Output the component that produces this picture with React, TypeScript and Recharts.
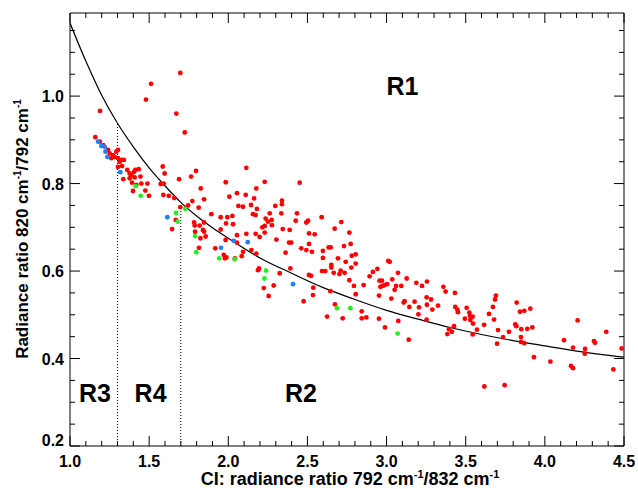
import { ComposedChart, Scatter, Line, XAxis, YAxis, ReferenceLine, ReferenceDot } from 'recharts';

const FONT = '"Liberation Sans", Arial, Helvetica, sans-serif';

// axis ticks (minor every 0.1 / 0.05, labelled majors)
const xTicks = [1.0, 1.1, 1.2, 1.3, 1.4, 1.5, 1.6, 1.7, 1.8, 1.9, 2.0, 2.1, 2.2, 2.3, 2.4, 2.5, 2.6, 2.7, 2.8, 2.9, 3.0, 3.1, 3.2, 3.3, 3.4, 3.5, 3.6, 3.7, 3.8, 3.9, 4.0, 4.1, 4.2, 4.3, 4.4, 4.5];
const xMajor = [1.0, 1.5, 2.0, 2.5, 3.0, 3.5, 4.0, 4.5];
const yTicks = [0.2, 0.25, 0.3, 0.35, 0.4, 0.45, 0.5, 0.55, 0.6, 0.65, 0.7, 0.75, 0.8, 0.85, 0.9, 0.95, 1.0, 1.05, 1.1, 1.15];
const yMajor = [0.2, 0.4, 0.6, 0.8, 1.0];

// fitted curve
const curveX = [1.0, 1.1, 1.2, 1.3, 1.4, 1.5, 1.6, 1.7, 1.8, 1.9, 2.0, 2.2, 2.4, 2.6, 2.8, 3.0, 3.2, 3.4, 3.6, 3.8, 4.0, 4.2, 4.5];
const curveY = [1.167, 1.08, 1.002, 0.938, 0.884, 0.836, 0.795, 0.757, 0.726, 0.699, 0.675, 0.63, 0.595, 0.562, 0.535, 0.51, 0.49, 0.471, 0.455, 0.441, 0.429, 0.417, 0.403];

// dotted dividers (x, top of line)
const dividerX = [1.3, 1.7];
const dividerTop = [0.938, 0.74];

const regionNames = ['R1', 'R2', 'R3', 'R4'];
const regionX = [3.1, 2.459, 1.158, 1.509];
const regionY = [1.022, 0.322, 0.322, 0.322];

const redPts: [number, number][] = [
  [1.697, 1.053], [1.512, 1.028], [1.48, 0.992], [1.19, 0.966], [1.672, 0.96], [1.725, 0.917], [1.16, 0.906],
  [1.188, 0.896], [1.209, 0.888], [1.24, 0.877], [1.251, 0.869], [1.272, 0.865], [1.282, 0.861], [1.293, 0.873], [1.303, 0.877],
  [1.261, 0.858], [1.303, 0.858], [1.314, 0.85], [1.325, 0.854], [1.341, 0.854], [1.303, 0.838], [1.329, 0.84],
  [1.362, 0.831], [1.377, 0.823], [1.388, 0.819], [1.405, 0.827], [1.413, 0.831], [1.434, 0.833], [1.377, 0.812], [1.409, 0.814],
  [1.445, 0.816], [1.337, 0.81], [1.392, 0.802], [1.419, 0.797], [1.451, 0.8], [1.489, 0.8], [1.476, 0.784], [1.398, 0.783], [1.499, 0.772],
  [1.586, 0.839], [1.598, 0.823], [1.573, 0.799], [1.592, 0.8], [1.689, 0.81], [1.765, 0.816], [1.796, 0.829], [1.826, 0.789],
  [1.847, 0.764], [1.984, 0.803], [2.007, 0.77], [1.59, 0.774], [1.624, 0.772], [1.659, 0.767], [1.697, 0.746], [1.746, 0.75],
  [1.773, 0.76], [1.813, 0.745], [1.668, 0.717], [1.784, 0.711], [1.788, 0.704], [1.819, 0.704], [1.847, 0.711], [1.893, 0.73],
  [1.952, 0.723], [1.994, 0.723], [2.026, 0.726], [1.986, 0.709], [2.03, 0.707], [1.645, 0.696], [1.84, 0.694], [1.952, 0.695],
  [2.23, 0.804], [2.177, 0.789], [2.11, 0.774], [2.055, 0.778], [2.163, 0.766], [2.064, 0.749], [2.093, 0.747], [2.144, 0.751],
  [2.181, 0.742], [2.156, 0.73], [2.173, 0.728], [2.236, 0.72], [2.262, 0.732], [2.297, 0.749], [2.339, 0.761], [2.339, 0.753],
  [2.451, 0.802], [2.335, 0.732], [2.274, 0.717], [2.251, 0.713], [2.276, 0.705], [2.23, 0.703], [2.215, 0.7], [2.344, 0.696],
  [2.388, 0.694], [2.434, 0.732], [2.426, 0.715], [2.493, 0.711], [2.504, 0.715], [2.51, 0.686], [2.304, 0.672], [2.23, 0.688],
  [2.198, 0.678], [2.173, 0.685], [2.114, 0.685], [2.055, 0.682], [2.055, 0.665], [2.146, 0.648], [2.177, 0.64], [2.093, 0.644],
  [2.085, 0.634], [2.042, 0.629], [1.988, 0.631], [1.979, 0.629], [1.971, 0.637], [1.918, 0.652], [1.815, 0.653], [1.824, 0.675],
  [1.857, 0.679], [1.847, 0.69], [1.79, 0.69], [1.983, 0.671], [2.188, 0.602], [2.194, 0.606], [2.392, 0.606], [2.325, 0.595],
  [2.287, 0.567], [2.224, 0.561], [2.255, 0.543], [2.476, 0.531], [2.362, 0.642], [2.384, 0.665], [2.398, 0.665], [2.461, 0.652],
  [2.493, 0.648], [2.51, 0.662], [2.51, 0.591], [2.114, 0.836],
  [2.59, 0.723], [2.714, 0.712], [2.672, 0.697], [2.546, 0.684], [2.765, 0.688], [2.773, 0.662], [2.731, 0.657], [2.634, 0.654],
  [2.647, 0.654], [2.598, 0.646], [2.529, 0.644], [2.598, 0.63], [2.693, 0.629], [2.651, 0.614], [2.651, 0.608], [2.78, 0.635],
  [2.805, 0.638], [2.742, 0.621], [2.805, 0.617], [2.777, 0.608], [2.592, 0.6], [2.613, 0.6], [2.666, 0.596], [2.71, 0.601],
  [2.735, 0.596], [2.702, 0.593], [2.523, 0.589], [2.765, 0.579], [3.011, 0.623], [3.02, 0.621], [2.942, 0.605], [2.914, 0.598],
  [2.893, 0.588], [3.072, 0.596], [2.956, 0.578], [2.971, 0.578], [2.961, 0.564], [2.973, 0.566], [2.988, 0.568], [3.003, 0.57],
  [3.036, 0.581], [3.127, 0.583], [3.093, 0.566], [3.06, 0.566], [3.051, 0.557], [2.855, 0.568], [2.794, 0.566], [2.952, 0.544],
  [3.188, 0.573], [3.255, 0.576], [3.224, 0.566], [3.03, 0.537], [3.108, 0.528], [3.114, 0.531], [3.177, 0.53], [3.253, 0.54],
  [3.281, 0.535], [3.144, 0.518], [3.205, 0.517], [3.255, 0.523], [3.325, 0.521], [3.289, 0.512], [3.201, 0.501], [3.253, 0.489],
  [3.359, 0.564], [3.373, 0.553], [2.645, 0.554], [2.537, 0.562], [2.535, 0.545], [2.674, 0.524], [2.624, 0.496], [2.723, 0.492],
  [2.843, 0.508], [2.843, 0.492], [2.872, 0.494], [2.952, 0.491], [2.99, 0.471], [3.074, 0.486], [3.14, 0.443], [3.384, 0.456],
  [3.394, 0.467], [2.805, 0.547],
  [3.432, 0.55], [3.434, 0.518], [3.447, 0.512], [3.451, 0.506], [3.506, 0.516], [3.523, 0.505], [3.527, 0.497], [3.544, 0.496],
  [3.529, 0.488], [3.546, 0.48], [3.495, 0.491], [3.571, 0.466], [3.544, 0.455], [3.616, 0.477], [3.647, 0.502], [3.672, 0.518],
  [3.679, 0.489], [3.685, 0.535], [3.691, 0.544], [3.704, 0.465], [3.698, 0.434], [3.736, 0.449], [3.773, 0.461], [3.822, 0.528],
  [3.843, 0.507], [3.87, 0.509], [3.908, 0.514], [3.813, 0.478], [3.82, 0.474], [3.851, 0.467], [3.889, 0.468], [3.921, 0.471],
  [3.849, 0.449], [3.849, 0.438], [3.87, 0.435], [3.931, 0.403], [4.035, 0.393], [4.121, 0.442], [4.178, 0.425], [4.165, 0.383],
  [4.178, 0.378], [4.207, 0.487], [4.254, 0.422], [4.252, 0.411], [4.31, 0.44], [4.317, 0.436], [4.388, 0.461], [4.433, 0.375],
  [4.485, 0.423], [3.618, 0.336], [3.746, 0.339], [3.413, 0.461], [3.426, 0.474],
];

const bluePts: [number, number][] = [
  [1.177, 0.896], [1.198, 0.886], [1.219, 0.884], [1.224, 0.873], [1.236, 0.861], [1.318, 0.826], [1.615, 0.723],
  [1.954, 0.653], [2.034, 0.669], [2.123, 0.666], [2.409, 0.57],
];

const greenPts: [number, number][] = [
  [1.415, 0.794], [1.447, 0.772], [1.67, 0.733], [1.729, 0.742], [1.68, 0.713], [1.79, 0.68], [1.798, 0.643],
  [1.943, 0.629], [2.04, 0.627], [2.238, 0.601], [2.228, 0.583], [2.687, 0.515], [2.771, 0.515], [3.07, 0.457],
];

const toRows = (pts: [number, number][]) => pts.map(([x, y]) => ({ x, y }));
const curve = curveX.map((x, i) => ({ x, y: curveY[i] }));

const dot = (color: string) => (p: any) => <circle cx={p.cx} cy={p.cy} r={2.4} fill={color} />;

const isMajor = (list: number[], v: number) => list.some((m) => Math.abs(m - v) < 1e-6);

function BottomTick({ x, y, payload }: any) {
  const major = isMajor(xMajor, payload.value);
  return (
    <g>
      <line x1={x} y1={y} x2={x} y2={y - (major ? 10 : 5)} stroke="#000" />
      {major && (
        <text x={x} y={y + 21} textAnchor="middle" fontSize={16} fontWeight="bold" fontFamily={FONT} fill="#000">
          {payload.value.toFixed(1)}
        </text>
      )}
    </g>
  );
}

function TopTick({ x, y, payload }: any) {
  const major = isMajor(xMajor, payload.value);
  return <line x1={x} y1={y} x2={x} y2={y + (major ? 10 : 5)} stroke="#000" />;
}

function LeftTick({ x, y, payload }: any) {
  const major = isMajor(yMajor, payload.value);
  const lift = payload.value < 0.21 ? -6 : 0;
  return (
    <g>
      <line x1={x} y1={y} x2={x + (major ? 10 : 5)} y2={y} stroke="#000" />
      {major && (
        <text x={x - 6} y={y + 6 + lift} textAnchor="end" fontSize={16} fontWeight="bold" fontFamily={FONT} fill="#000">
          {payload.value.toFixed(1)}
        </text>
      )}
    </g>
  );
}

function RightTick({ x, y, payload }: any) {
  const major = isMajor(yMajor, payload.value);
  return <line x1={x} y1={y} x2={x - (major ? 10 : 5)} y2={y} stroke="#000" />;
}

function XTitle() {
  return (
    <text x={350} y={485} textAnchor="middle" fontSize={18} fontWeight="bold" fontFamily={FONT} fill="#000">
      CI: radiance ratio 792 cm<tspan dy={-7} fontSize={11}>-1</tspan>
      <tspan dy={7}>/832 cm</tspan>
      <tspan dy={-7} fontSize={11}>-1</tspan>
    </text>
  );
}

function YTitle() {
  return (
    <text
      x={28}
      y={229}
      transform="rotate(-90, 28, 229)"
      textAnchor="middle"
      fontSize={17}
      fontWeight="bold"
      fontFamily={FONT}
      fill="#000"
    >
      Radiance ratio 820 cm<tspan dy={-7} fontSize={10}>-1</tspan>
      <tspan dy={7}>/792 cm</tspan>
      <tspan dy={-7} fontSize={10}>-1</tspan>
    </text>
  );
}

export default function App() {
  return (
    <div style={{ position: 'absolute', left: 0, top: 0, width: 638, height: 489, background: '#fff' }}>
      <ComposedChart width={638} height={489} margin={{ top: 0, right: 0, bottom: 0, left: 0 }}>
        <XAxis
          xAxisId={0}
          type="number"
          dataKey="x"
          domain={[1, 4.5]}
          allowDataOverflow
          ticks={xTicks}
          interval={0}
          height={43}
          tickSize={0}
          tickMargin={0}
          tickLine={false}
          axisLine={{ stroke: '#000' }}
          tick={<BottomTick />}
          label={{ content: () => <XTitle /> }}
        />
        <XAxis
          xAxisId="top"
          orientation="top"
          type="number"
          dataKey="x"
          domain={[1, 4.5]}
          allowDataOverflow
          ticks={xTicks}
          interval={0}
          height={13}
          tickSize={0}
          tickMargin={0}
          tickLine={false}
          axisLine={{ stroke: '#000' }}
          tick={<TopTick />}
        />
        <YAxis
          yAxisId={0}
          type="number"
          dataKey="y"
          domain={[0.2, 1.19]}
          allowDataOverflow
          ticks={yTicks}
          interval={0}
          width={70}
          tickSize={0}
          tickMargin={0}
          tickLine={false}
          axisLine={{ stroke: '#000' }}
          tick={<LeftTick />}
          label={{ content: () => <YTitle /> }}
        />
        <YAxis
          yAxisId="right"
          orientation="right"
          type="number"
          dataKey="y"
          domain={[0.2, 1.19]}
          allowDataOverflow
          ticks={yTicks}
          interval={0}
          width={14}
          tickSize={0}
          tickMargin={0}
          tickLine={false}
          axisLine={{ stroke: '#000' }}
          tick={<RightTick />}
        />
        {dividerX.map((x, i) => (
          <ReferenceLine
            key={x}
            xAxisId={0}
            yAxisId={0}
            segment={[{ x, y: 0.2 }, { x, y: dividerTop[i] }]}
            stroke="#000"
            strokeDasharray="1 2"
          />
        ))}
        <Scatter xAxisId={0} yAxisId={0} data={toRows(redPts)} shape={dot('#ff0000')} isAnimationActive={false} />
        <Scatter xAxisId={0} yAxisId={0} data={toRows(bluePts)} shape={dot('#1e7fff')} isAnimationActive={false} />
        <Scatter xAxisId={0} yAxisId={0} data={toRows(greenPts)} shape={dot('#22ee22')} isAnimationActive={false} />
        <Scatter xAxisId="top" yAxisId="right" data={[]} isAnimationActive={false} />
        <Line
          xAxisId={0}
          yAxisId={0}
          data={curve}
          dataKey="y"
          type="monotone"
          stroke="#000"
          strokeWidth={1.2}
          dot={false}
          activeDot={false}
          isAnimationActive={false}
        />
        {regionNames.map((name, i) => (
          <ReferenceDot
            key={name}
            xAxisId={0}
            yAxisId={0}
            x={regionX[i]}
            y={regionY[i]}
            r={1}
            fill="none"
            stroke="none"
            label={{ value: name, position: 'center', fontSize: 25, fontWeight: 'bold', fontFamily: FONT, fill: '#000' }}
          />
        ))}
      </ComposedChart>
    </div>
  );
}
